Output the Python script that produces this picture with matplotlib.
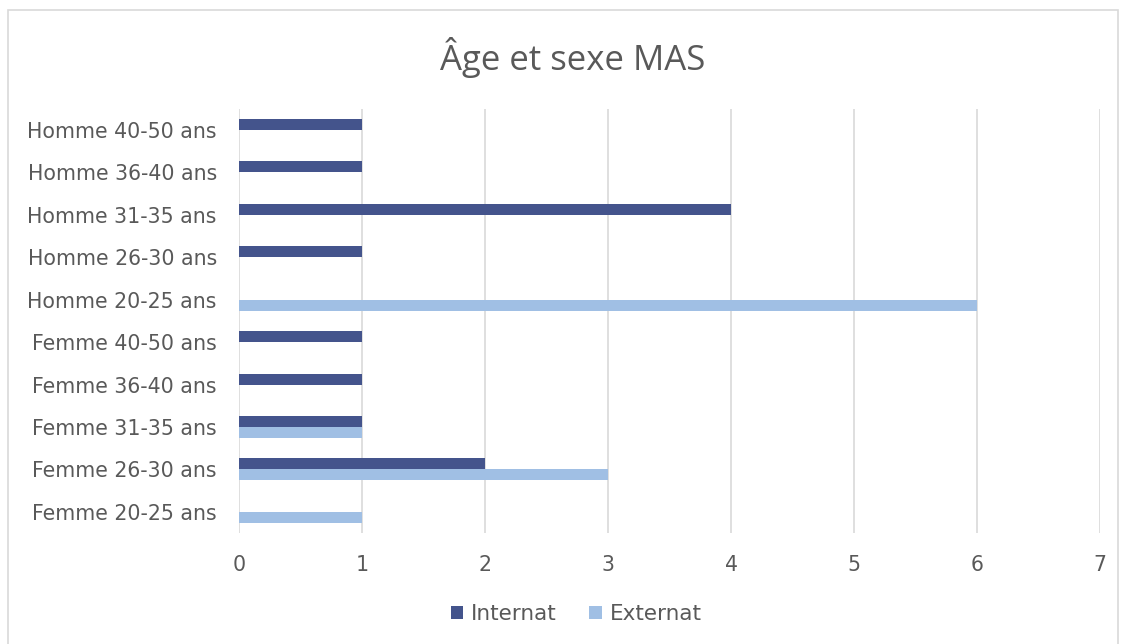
import numpy as np
import matplotlib.pyplot as plt
from matplotlib.patches import Rectangle

categories = ["Femme 20-25 ans", "Femme 26-30 ans", "Femme 31-35 ans",
              "Femme 36-40 ans", "Femme 40-50 ans", "Homme 20-25 ans",
              "Homme 26-30 ans", "Homme 31-35 ans", "Homme 36-40 ans",
              "Homme 40-50 ans"]
internat = [0, 2, 1, 1, 1, 0, 1, 4, 1, 1]
externat = [1, 3, 1, 0, 0, 6, 0, 0, 0, 0]

dark = "#44548C"
light = "#A0BFE4"
grey = "#595959"

plt.rcParams['font.family'] = ['DejaVu Sans']

fig = plt.figure(figsize=(11.23, 6.44), dpi=100)
fig.patches.append(Rectangle((8 / 1123, -0.01), 1110 / 1123, 1 - 10 / 644 + 0.01,
                             transform=fig.transFigure, fill=False,
                             edgecolor="#D9D9D9", linewidth=1.2))
top, bottom = 108.8, 533.0
ax = fig.add_axes([239 / 1123, 1 - bottom / 644, (1100 - 239) / 1123, (bottom - top) / 644])

y = np.arange(len(categories))
h = 0.26
ax.barh(y + h / 2, internat, height=h, color=dark, label="Internat", zorder=3)
ax.barh(y - h / 2, externat, height=h, color=light, label="Externat", zorder=3)

ax.set_xlim(0, 7)
ax.set_ylim(-0.5, len(categories) - 0.5)
ax.set_xticks(range(8))
ax.set_yticks(y)
ax.set_yticklabels(categories)
ax.tick_params(length=0, labelsize=14.8, colors=grey)
ax.tick_params(axis='x', pad=16)
ax.tick_params(axis='y', pad=16)
ax.grid(axis='x', color="#D9D9D9", linewidth=1.2, zorder=0)
for s in ax.spines.values():
    s.set_visible(False)

fig.text(0.51, 1 - 57 / 644, "Âge et sexe MAS", ha='center', va='center',
         fontsize=25, color=grey, family=['Open Sans', 'DejaVu Sans'])

leg = fig.legend(loc='center', bbox_to_anchor=(576 / 1123, 1 - 614 / 644), ncol=2,
                 frameon=False, fontsize=15.5, handlelength=0.6, handleheight=0.6,
                 handletextpad=0.35, columnspacing=1.5)
for t in leg.get_texts():
    t.set_color(grey)

fig.savefig("out.png", dpi=100)
